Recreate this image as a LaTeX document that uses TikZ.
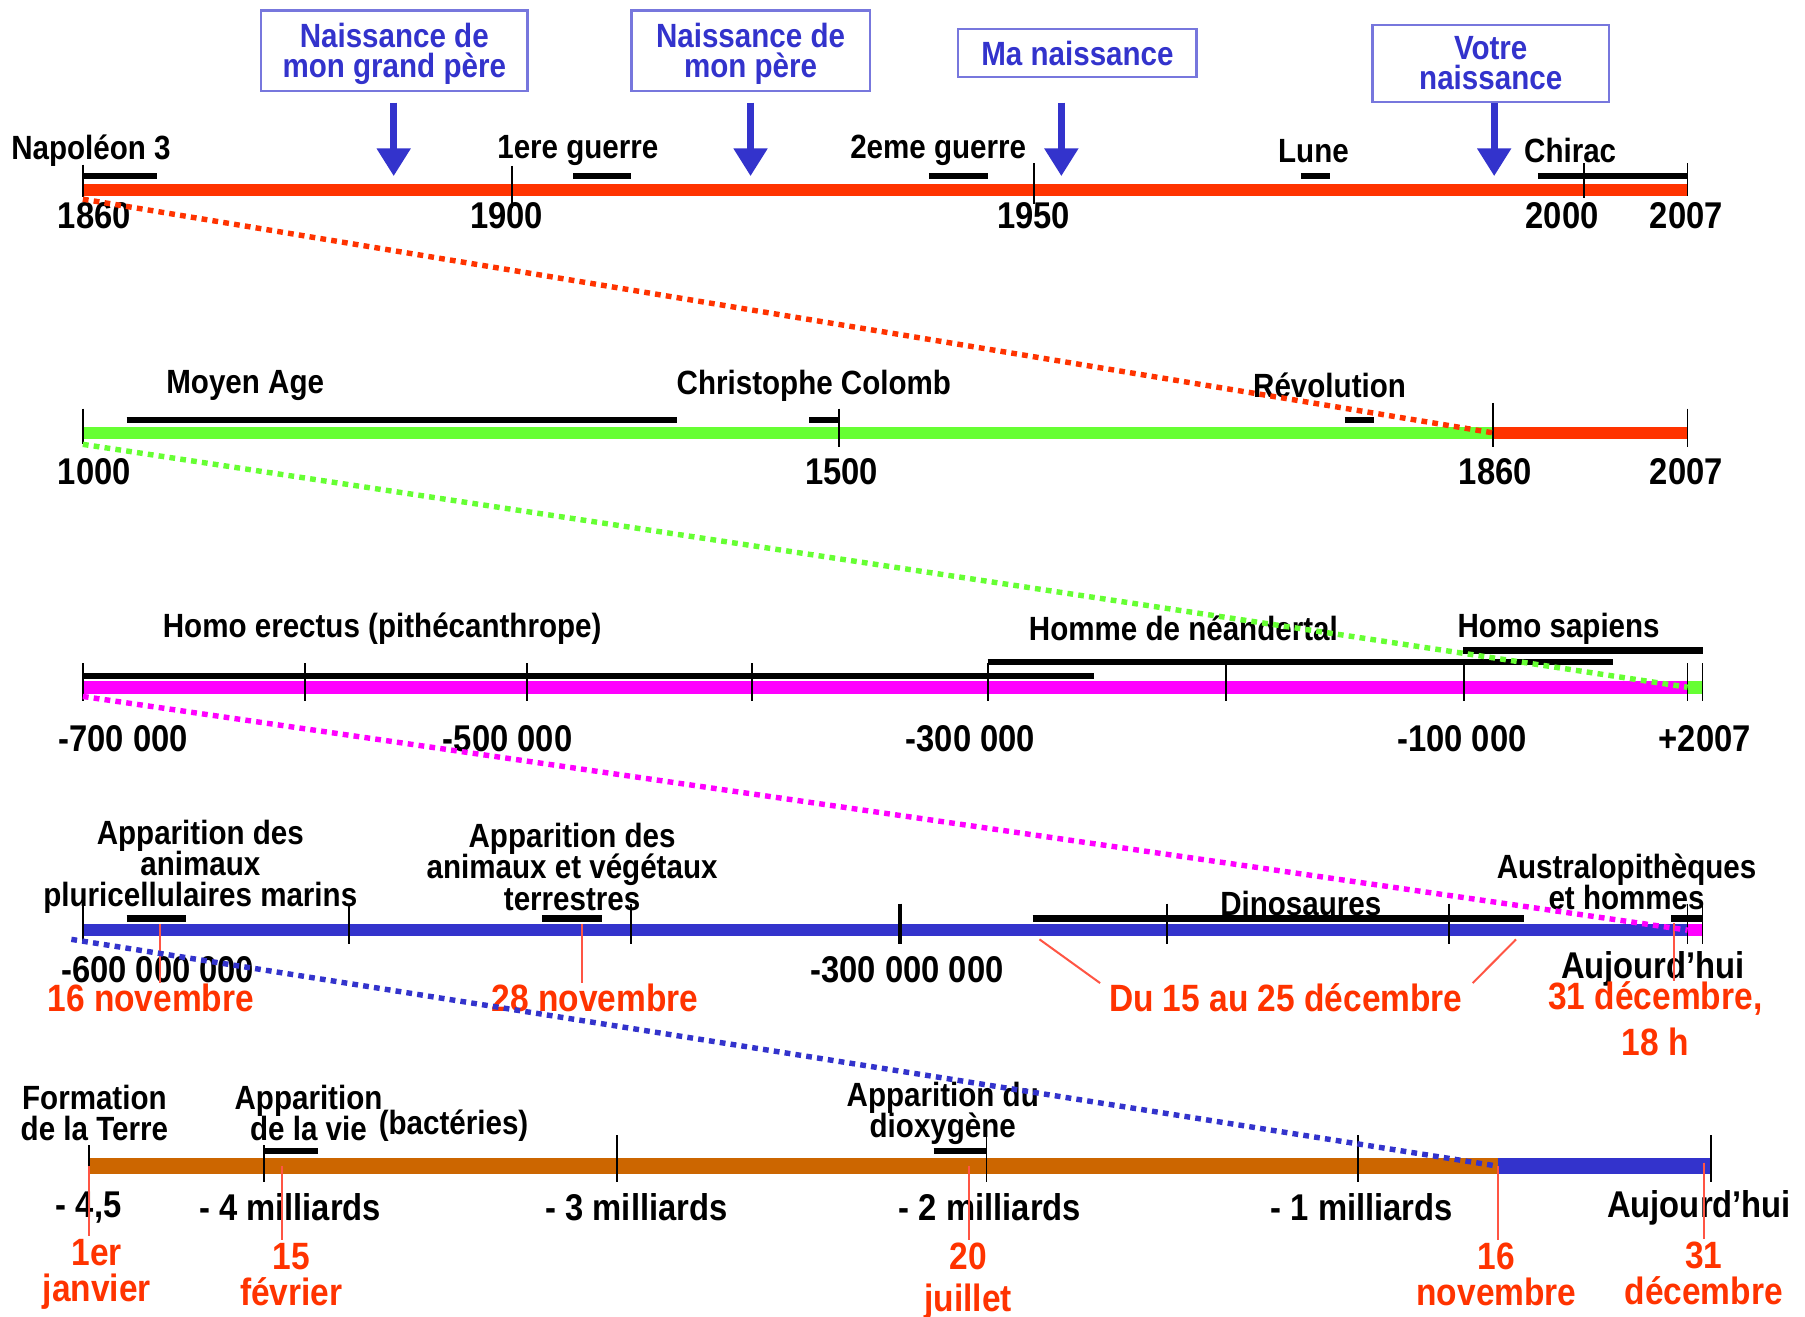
\documentclass[tikz,border=0pt]{standalone}
\usepackage{fontspec}
\setmainfont{Liberation Sans}[FakeStretch=0.88]
\usetikzlibrary{arrows.meta}

\definecolor{barred}{HTML}{FF3300}
\definecolor{bargreen}{HTML}{66FF33}
\definecolor{barpink}{HTML}{FF00FF}
\definecolor{barblue}{HTML}{3333CC}
\definecolor{barbrown}{HTML}{CC6600}
\definecolor{boxline}{HTML}{7777DD}
\definecolor{datered}{HTML}{FF3300}
\definecolor{ptrred}{HTML}{FF5544}

\newcommand\tllab{\fontsize{8.3}{7.7}\selectfont\bfseries\lineskiplimit=-20pt}
\newcommand\tlnum{\fontsize{9.2}{9}\selectfont\bfseries}
\newcommand\tldate{\fontsize{9.4}{8.8}\selectfont\bfseries\lineskiplimit=-20pt}
\newcommand\tlbox{\fontsize{8.3}{7.4}\selectfont\bfseries\lineskiplimit=-20pt}

\begin{document}
\begin{tikzpicture}[x=0.01cm,y=-0.01cm,
  bar/.style={line width=0.11cm},
  period/.style={line width=0.055cm},
  tickline/.style={line width=0.45pt},
  zoomline/.style={line width=0.047cm, dash pattern=on 0.05cm off 0.045cm},
  ptr/.style={ptrred, line width=0.5pt},
  lab/.style={font=\tllab, align=center, inner sep=0pt},
  num/.style={font=\tlnum, inner sep=0pt},
  datelab/.style={font=\tldate, text=datered, align=center, inner sep=0pt},
  birth/.style={draw=boxline, line width=0.6pt, text=barblue, font=\tlbox,
    align=center, inner sep=0pt, text depth=0pt, minimum width=2.07cm},
  birtharrow/.style={barblue, line width=0.06cm,
    -{Triangle[length=0.24cm, width=0.28cm]}}]
\useasboundingbox (0,0) rectangle (1568,1144);

% Births (boxes and arrows)
\node[birth, minimum width=2.31cm, minimum height=0.7cm] (b1) at (342.5,44) {Naissance de\\mon grand père};
\node[birth, minimum height=0.7cm] (b2) at (652,44) {Naissance de\\mon père};
\node[birth, minimum height=0.42cm] (b3) at (936,46) {Ma naissance};
\node[birth, minimum width=2.05cm, minimum height=0.67cm] (b4) at (1295,55) {Votre\\naissance};
\coordinate (t1) at (342,153);
\coordinate (t2) at (652,153);
\coordinate (t3) at (922,153);
\coordinate (t4) at (1298,153);
\foreach \i/\gap in {1/0.09cm, 2/0.09cm, 3/0.21cm, 4/0cm}
  \draw[birtharrow, shorten <=\gap] (b\i.south -| t\i) -- (t\i);

% Timeline 1860 - 2007
\coordinate (r1a) at (72,165);
\coordinate (r1s) at (72,173);
\coordinate (r1b) at (1466,165);
\draw[bar,barred] (r1a) -- (r1b);
\foreach \x/\ya/\yb in {72/143/171, 445/144/181, 898/142/177, 1376/142/172, 1466/142/170}
  \draw[tickline] (\x,\ya) -- (\x,\yb);
\foreach \xa/\xb in {72/136, 498/548, 807/858, 1130/1155, 1336/1466}
  \draw[period] (\xa,153) -- (\xb,153);
\foreach \x/\t [count=\i] in {79/Napoléon 3, 502/1ere guerre, 815/2eme guerre, 1141/Lune, 1364/Chirac}
  \node[lab] (ev1-\i) at (\x,131) {\t};
\foreach \x/\t [count=\i] in {82/1860, 440/1900, 898/1950, 1357/2000, 1465/2007}
  \node[num] (yr1-\i) at (\x,187) {\t};

% Timeline 1000 - 2007
\coordinate (r2a) at (72,376);
\coordinate (r2s) at (72,386);
\coordinate (r2j) at (1297,376);
\coordinate (r2b) at (1466,376);
\draw[bar,bargreen] (r2a) -- (r2j);
\draw[bar,barred] (r2j) -- (r2b);
\foreach \x/\ya/\yb in {72/355/386, 729/355/388, 1297/350/388, 1466/355/388}
  \draw[tickline] (\x,\ya) -- (\x,\yb);
\foreach \xa/\xb in {110/588, 703/729, 1168/1194}
  \draw[period] (\xa,365) -- (\xb,365);
\foreach \x/\t [count=\i] in {213/Moyen Age, 707/Christophe Colomb, 1155/Révolution}
  \node[lab] (ev2-\i) at (\x,335) {\t};
\foreach \x/\t [count=\i] in {82/1000, 731/1500, 1299/1860, 1465/2007}
  \node[num] (yr2-\i) at (\x,410) {\t};

% Timeline -700 000 - 2007
\coordinate (r3a) at (72,597);
\coordinate (r3s) at (72,605);
\coordinate (r3j) at (1466,597);
\coordinate (r3b) at (1479,597);
\draw[bar,barpink] (r3a) -- (r3j);
\draw[bar,bargreen] (r3j) -- (r3b);
\foreach \x in {72,265,458,653,858,1065,1272,1466,1479}
  \draw[tickline] (\x,576) -- (\x,609);
\draw[period] (72,587) -- (950,587);
\draw[period] (858,575) -- (1401,575);
\draw[period] (1271,565) -- (1479,565);
\foreach \x/\t [count=\i] in {332/Homo erectus (pithécanthrope), 1028/Homme de néandertal, 1354/Homo sapiens}
  \node[lab] (ev3-\i) at (\x,546) {\t};
\foreach \x/\t [count=\i] in {107/-700 000, 441/-500 000, 843/-300 000, 1270/-100 000, 1481/+2007}
  \node[num] (yr3-\i) at (\x,642) {\t};

% Timeline -600 000 000 - today
\coordinate (r4a) at (72,808);
\coordinate (r4s) at (62,816);
\coordinate (r4j) at (1466,808);
\coordinate (r4b) at (1479,808);
\draw[bar,barblue] (r4a) -- (r4j);
\draw[bar,barpink] (r4j) -- (r4b);
\foreach \x in {72,303,548,1014,1259,1466,1479}
  \draw[tickline] (\x,785) -- (\x,820);
\draw[line width=1pt] (782,785) -- (782,820);
\foreach \xa/\xb in {110/162, 471/523, 897/1324, 1452/1479}
  \draw[period] (\xa,798) -- (\xb,798);
\node[lab] (ev4-1) at (174,753) {Apparition des\\animaux\\pluricellulaires marins};
\node[lab] (ev4-2) at (497,753) {Apparition des\\animaux et végétaux\\terrestres};
\node[lab] (ev4-3) at (1130,785) {Dinosaures};
\node[lab] (ev4-4) at (1413,766) {Australopithèques\\et hommes};
\foreach \x/\t [count=\i] in {137/-600 000 000, 788/-300 000 000, 1436/Aujourd’hui}
  \node[num] (yr4-\i) at (\x,842) {\t};
\node[datelab] (d4-1) at (131,867) {16 novembre};
\node[datelab] (d4-2) at (517,867) {28 novembre};
\node[datelab] (d4-3) at (1117,867) {Du 15 au 25 décembre};
\node[datelab] (d4-4) at (1438,885) {31 décembre,\\[2.6pt]18 h};
\coordinate (p4-1) at (139,803);
\coordinate (p4-2) at (506,803);
\coordinate (p4-3) at (903,816);
\coordinate (p4-4) at (1317,816);
\coordinate (p4-5) at (1454,802);
\draw[ptr] (p4-1) -- (p4-1 |- d4-1.north);
\draw[ptr] (p4-2) -- (p4-2 |- d4-2.north);
\draw[ptr] (p4-3) -- ([xshift=-0.07cm]d4-3.north west);
\draw[ptr] (p4-4) -- ([xshift=0.08cm]d4-3.north east);
\draw[ptr] (p4-5) -- (p4-5 |- d4-4.north);

% Timeline -4,5 milliards - today
\coordinate (r5a) at (77,1013);
\coordinate (r5j) at (1301,1013);
\coordinate (r5b) at (1486,1013);
\draw[line width=0.14cm,barbrown] (r5a) -- (r5j);
\draw[line width=0.14cm,barblue] (r5j) -- (r5b);
\draw[tickline] (77,995) -- (77,1014);
\foreach \x/\ya in {229/995, 536/986, 857/986, 1180/986, 1486/986}
  \draw[tickline] (\x,\ya) -- (\x,1027);
\draw[period] (229,1000) -- (276,1000);
\draw[period] (811,1000) -- (857,1000);
\node[lab] (ev5-1) at (82,967) {Formation\\de la Terre};
\node[lab] (ev5-2) at (268,967) {Apparition\\de la vie};
\node[lab] (ev5-3) at (394,978) {(bactéries)};
\node[lab] (ev5-4) at (819,967) {Apparition du\\dioxygène};
\foreach \x/\t [count=\i] in {77/{- 4,5}, 252/- 4 milliards, 553/- 3 milliards, 860/- 2 milliards, 1183/- 1 milliards, 1476/Aujourd’hui}
  \node[num] (yr5-\i) at (\x,1049) {\t};
\foreach \x/\y/\t [count=\i] in {84/1107/1er\\janvier, 253/1107/15\\février, 841/1113/20\\[1.7pt]juillet, 1300/1107/16\\novembre, 1480/1106/31\\décembre}
  \node[datelab] (d5-\i) at (\x,\y) {\t};
\foreach \x/\y [count=\i] in {77/1013, 245/1013, 842/1013, 1301/1013, 1480/1010}
{
  \coordinate (p5-\i) at (\x,\y);
  \draw[ptr] (p5-\i) -- ([yshift=0.02cm]p5-\i |- d5-\i.north);
}

% Zoom lines between the timelines
\draw[zoomline,barred] (r1s) -- (r2j);
\draw[zoomline,bargreen] (r2s) -- (r3j);
\draw[zoomline,barpink] (r3s) -- (r4j);
\draw[zoomline,barblue] (r4s) -- (r5j);
\end{tikzpicture}
\end{document}
